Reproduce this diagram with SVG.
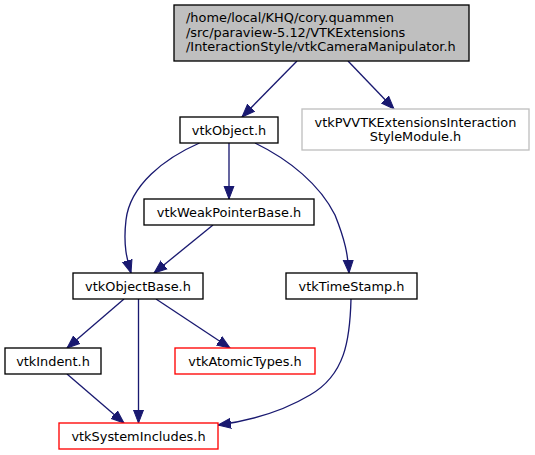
<svg xmlns="http://www.w3.org/2000/svg" width="535" height="455" viewBox="0 0 535 455">
<defs>
<style>
text{font-family:"DejaVu Sans","Liberation Sans",sans-serif;font-size:12.9px;fill:#000}
.c{text-anchor:middle}
.n{fill:#fff;stroke:#000;stroke-width:1.33}
.root{fill:#bfbfbf;stroke:#000;stroke-width:1.33}
.grey{fill:#fff;stroke:#bfbfbf;stroke-width:1.33}
.red{fill:#fff;stroke:#ff0000;stroke-width:1.33}
.e{fill:none;stroke:#191970;stroke-width:1.33;marker-end:url(#ah)}
</style>
<marker id="ah" markerUnits="userSpaceOnUse" markerWidth="14" markerHeight="12" refX="13" refY="5" orient="auto" viewBox="0 0 14 10">
<path d="M0,0 L13,5 L0,10 z" fill="#191970" stroke="#191970" stroke-width="1"/>
</marker>
</defs>
<g id="edges">
<path class="e" d="M297,61 L242,117"/>
<path class="e" d="M348,61 L394,109"/>
<path class="e" d="M229,143 L229,199"/>
<path class="e" d="M199.5,143 C165,158 130,185 126,220 C123,245 127,260 131,273"/>
<path class="e" d="M255,143 C290,160 320,185 335,215 C345,240 348,255 349,273"/>
<path class="e" d="M213,225 L154,273"/>
<path class="e" d="M124,299 L67,348"/>
<path class="e" d="M138.5,299 L138.5,423"/>
<path class="e" d="M156,299 L230,348"/>
<path class="e" d="M67,374 L124,423"/>
<path class="e" d="M351,299 C350,340 345,375 310,395 C285,410 255,420 218,425"/>
</g>
<g id="node-root">
<rect class="root" x="174" y="5" width="295" height="56"/>
<text x="186" y="22">/home/local/KHQ/cory.quammen</text>
<text x="186" y="36.6">/src/paraview-5.12/VTKExtensions</text>
<text x="186" y="51.2">/InteractionStyle/vtkCameraManipulator.h</text>
</g>
<g id="node-vtkObject">
<rect class="n" x="180" y="117" width="98" height="26"/>
<text class="c" x="229" y="134.5">vtkObject.h</text>
</g>
<g id="node-vtkPVVTK">
<rect class="grey" x="302" y="109" width="227" height="41"/>
<text class="c" x="415.5" y="126.5">vtkPVVTKExtensionsInteraction</text>
<text class="c" x="415.5" y="141">StyleModule.h</text>
</g>
<g id="node-vtkWeakPointerBase">
<rect class="n" x="144" y="199" width="170" height="26"/>
<text class="c" x="229" y="216.5">vtkWeakPointerBase.h</text>
</g>
<g id="node-vtkObjectBase">
<rect class="n" x="73" y="273" width="130" height="26"/>
<text class="c" x="138" y="290.5">vtkObjectBase.h</text>
</g>
<g id="node-vtkTimeStamp">
<rect class="n" x="286" y="273" width="131" height="26"/>
<text class="c" x="351.5" y="290.5">vtkTimeStamp.h</text>
</g>
<g id="node-vtkIndent">
<rect class="n" x="5" y="348" width="96" height="26"/>
<text class="c" x="53" y="365.5">vtkIndent.h</text>
</g>
<g id="node-vtkAtomicTypes">
<rect class="red" x="175" y="348" width="140" height="26"/>
<text class="c" x="245" y="365.5">vtkAtomicTypes.h</text>
</g>
<g id="node-vtkSystemIncludes">
<rect class="red" x="59" y="423" width="159" height="26"/>
<text class="c" x="138.5" y="440.5">vtkSystemIncludes.h</text>
</g>
</svg>
